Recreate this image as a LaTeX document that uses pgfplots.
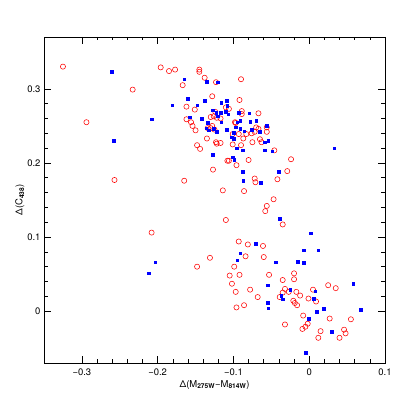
\documentclass[border=0pt]{standalone}
\usepackage{fontspec}
\setmainfont{TeX Gyre Heros}
\usepackage{pgfplots}
\pgfplotsset{compat=1.18}

\begin{document}
\begin{tikzpicture}
\path[use as bounding box] (-44bp,-44bp) rectangle (363bp,363bp);
\begin{axis}[
    at={(0,0)}, anchor=south west,
    scale only axis,
    width=341bp, height=326bp,
    xmin=-0.35, xmax=0.1,
    ymin=-0.07, ymax=0.37,
    xtick={-0.3,-0.2,-0.1,0,0.1},
    xticklabels={−0.3,−0.2,−0.1,0,0.1},
    ytick={0,0.1,0.2,0.3},
    yticklabels={0,0.1,0.2,0.3},
    minor tick num=4,
    tick align=inside,
    major tick length=7bp,
    minor tick length=3.5bp,
    xtick pos=both, ytick pos=both,
    axis line style={black, line width=0.8pt},
    tick style={black, line width=0.6pt},
    tick label style={font=\fontsize{9.5}{11}\selectfont},
    label style={font=\fontsize{9.5}{11}\selectfont},
    xticklabel style={yshift=-2bp},
    xlabel={Δ(M\textsubscript{\textbf{275W}}−M\textsubscript{\textbf{814W}})},
    ylabel={Δ(C\textsubscript{\textbf{438}})},
    xlabel style={yshift=2bp},
    ylabel style={yshift=-4bp},
]
% --- red open circles ---
\addplot[only marks, mark=o, mark size=2.6pt, red, mark options={line width=0.55pt}] table {
x y
-0.325 0.330
-0.196 0.329
-0.185 0.324
-0.177 0.326
-0.145 0.326
-0.145 0.323
-0.138 0.315
-0.123 0.309
-0.233 0.299
-0.167 0.305
-0.128 0.290
-0.162 0.276
-0.151 0.272
-0.294 0.255
-0.162 0.259
-0.156 0.255
-0.154 0.250
-0.150 0.244
-0.130 0.262
-0.126 0.263
-0.122 0.261
-0.117 0.260
-0.124 0.269
-0.128 0.250
-0.134 0.247
-0.130 0.247
-0.125 0.245
-0.135 0.233
-0.123 0.228
-0.122 0.226
-0.117 0.227
-0.148 0.224
-0.144 0.219
-0.127 0.191
-0.257 0.177
-0.165 0.176
-0.090 0.313
-0.092 0.285
-0.110 0.275
-0.106 0.273
-0.089 0.270
-0.089 0.266
-0.067 0.267
-0.098 0.255
-0.097 0.254
-0.070 0.248
-0.067 0.246
-0.056 0.248
-0.056 0.242
-0.101 0.239
-0.093 0.239
-0.083 0.239
-0.076 0.240
-0.072 0.242
-0.087 0.233
-0.065 0.232
-0.063 0.228
-0.101 0.225
-0.090 0.224
-0.075 0.228
-0.046 0.217
-0.108 0.203
-0.106 0.203
-0.080 0.204
-0.096 0.197
-0.024 0.205
-0.029 0.189
-0.072 0.179
-0.071 0.174
-0.042 0.178
-0.114 0.163
-0.086 0.162
-0.047 0.151
-0.056 0.142
-0.058 0.135
-0.110 0.123
-0.035 0.117
-0.093 0.094
-0.081 0.090
-0.061 0.088
-0.131 0.072
-0.084 0.074
-0.060 0.073
-0.099 0.060
-0.105 0.048
-0.092 0.049
-0.053 0.049
-0.020 0.051
-0.020 0.043
-0.035 0.042
-0.102 0.037
-0.097 0.026
-0.078 0.029
-0.032 0.030
-0.027 0.026
-0.017 0.026
-0.012 0.021
-0.035 0.025
-0.039 0.019
-0.068 0.019
-0.021 0.014
-0.019 0.011
-0.016 0.008
-0.096 0.005
-0.086 0.008
-0.001 0.017
0.005 0.029
0.009 0.013
0.025 0.035
0.035 0.031
-0.008 -0.006
0.027 -0.010
0.055 -0.011
-0.032 -0.018
-0.002 -0.017
-0.005 -0.021
-0.009 -0.024
0.015 -0.027
0.046 -0.025
0.048 -0.030
0.012 -0.036
0.040 -0.036
-0.208 0.106
-0.148 0.060
};
% --- blue filled squares ---
\addplot[only marks, mark=square*, mark size=1.3pt, blue] table {
x y
-0.261 0.323
-0.165 0.313
-0.135 0.310
-0.121 0.309
-0.160 0.287
-0.181 0.278
-0.148 0.278
-0.138 0.284
-0.208 0.259
-0.158 0.262
-0.142 0.260
-0.127 0.271
-0.121 0.263
-0.134 0.254
-0.136 0.247
-0.133 0.244
-0.126 0.246
-0.122 0.242
-0.258 0.230
-0.127 0.211
-0.116 0.281
-0.109 0.284
-0.108 0.277
-0.123 0.268
-0.117 0.268
-0.110 0.269
-0.107 0.266
-0.116 0.255
-0.093 0.268
-0.079 0.267
-0.095 0.255
-0.091 0.257
-0.078 0.256
-0.070 0.257
-0.056 0.250
-0.109 0.245
-0.097 0.248
-0.091 0.246
-0.086 0.243
-0.076 0.245
-0.100 0.241
-0.102 0.235
-0.100 0.233
-0.065 0.242
-0.059 0.228
-0.054 0.230
-0.096 0.220
-0.088 0.217
-0.059 0.217
-0.049 0.216
-0.101 0.208
-0.099 0.204
0.033 0.220
-0.088 0.188
-0.040 0.188
-0.087 0.176
-0.064 0.173
-0.039 0.125
0.002 0.105
-0.071 0.091
-0.091 0.078
-0.095 0.069
-0.007 0.082
0.012 0.082
-0.044 0.066
-0.015 0.067
-0.007 0.065
-0.055 0.035
-0.025 0.029
-0.037 0.021
-0.035 0.016
0.008 0.027
0.006 0.017
0.058 0.037
-0.055 0.011
-0.054 0.004
0.019 0.003
0.010 -0.001
0.068 0.002
-0.001 -0.010
0.030 -0.028
-0.005 -0.056
-0.203 0.066
-0.212 0.051
};
\end{axis}
\end{tikzpicture}
\end{document}
